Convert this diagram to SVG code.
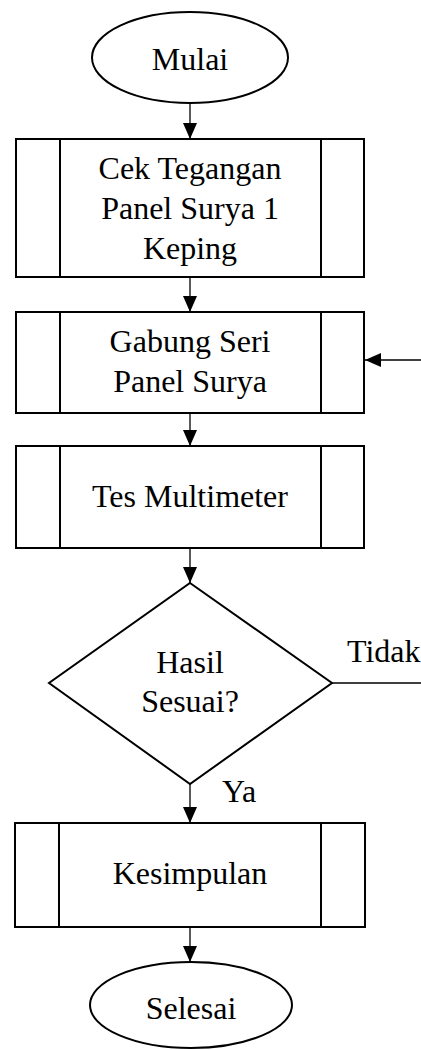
<svg xmlns="http://www.w3.org/2000/svg" width="421" height="1050" viewBox="0 0 421 1050">
<style>
.s{fill:#fff;stroke:#000;stroke-width:2}
.l{stroke:#000;stroke-width:2}
.c{fill:none;stroke:#000;stroke-width:1.3}
text{font-family:"Liberation Serif","Times New Roman",serif;font-size:32px;fill:#000}
.m{text-anchor:middle}
</style>
<defs>
<marker id="ah" markerUnits="userSpaceOnUse" markerWidth="16" markerHeight="14" refX="16" refY="7" orient="auto">
<path d="M0,0 L16,7 L0,14 Z" fill="#000"/>
</marker>
</defs>
<rect width="421" height="1050" fill="#fff"/>
<g id="connectors">
<line class="c" x1="190" y1="103" x2="190" y2="139" marker-end="url(#ah)"/>
<line class="c" x1="190" y1="277" x2="190" y2="312" marker-end="url(#ah)"/>
<line class="c" x1="190" y1="413" x2="190" y2="446" marker-end="url(#ah)"/>
<line class="c" x1="190" y1="548" x2="190" y2="583" marker-end="url(#ah)"/>
<line class="c" x1="190" y1="784" x2="190" y2="823" marker-end="url(#ah)"/>
<line class="c" x1="190" y1="927" x2="190" y2="962" marker-end="url(#ah)"/>
<line class="c" x1="332" y1="683" x2="421" y2="683"/>
<line class="c" x1="421" y1="360" x2="365" y2="360" marker-end="url(#ah)"/>
<text x="347" y="662">Tidak</text>
<text x="222" y="802">Ya</text>
</g>
<g id="mulai">
<ellipse class="s" cx="190" cy="57.5" rx="98" ry="45.5"/>
<text class="m" x="190" y="70">Mulai</text>
</g>
<g id="cek">
<rect class="s" x="16" y="139" width="348" height="138"/>
<line class="l" x1="60" y1="139" x2="60" y2="277"/>
<line class="l" x1="321" y1="139" x2="321" y2="277"/>
<text class="m" x="190" y="179">Cek Tegangan</text>
<text class="m" x="190" y="219">Panel Surya 1</text>
<text class="m" x="190" y="259">Keping</text>
</g>
<g id="gabung">
<rect class="s" x="16" y="312" width="348" height="101"/>
<line class="l" x1="60" y1="312" x2="60" y2="413"/>
<line class="l" x1="321" y1="312" x2="321" y2="413"/>
<text class="m" x="190" y="352">Gabung Seri</text>
<text class="m" x="190" y="392">Panel Surya</text>
</g>
<g id="tes">
<rect class="s" x="16" y="446" width="348" height="102"/>
<line class="l" x1="60" y1="446" x2="60" y2="548"/>
<line class="l" x1="321" y1="446" x2="321" y2="548"/>
<text class="m" x="190" y="507">Tes Multimeter</text>
</g>
<g id="hasil">
<polygon class="s" points="190,583 332,683 190,784 49,683"/>
<text class="m" x="190" y="673">Hasil</text>
<text class="m" x="190" y="712">Sesuai?</text>
</g>
<g id="kesimpulan">
<rect class="s" x="15" y="823" width="350" height="104"/>
<line class="l" x1="59" y1="823" x2="59" y2="927"/>
<line class="l" x1="321" y1="823" x2="321" y2="927"/>
<text class="m" x="190" y="884">Kesimpulan</text>
</g>
<g id="selesai">
<ellipse class="s" cx="191" cy="1005" rx="101" ry="43"/>
<text class="m" x="191" y="1019">Selesai</text>
</g>
</svg>
